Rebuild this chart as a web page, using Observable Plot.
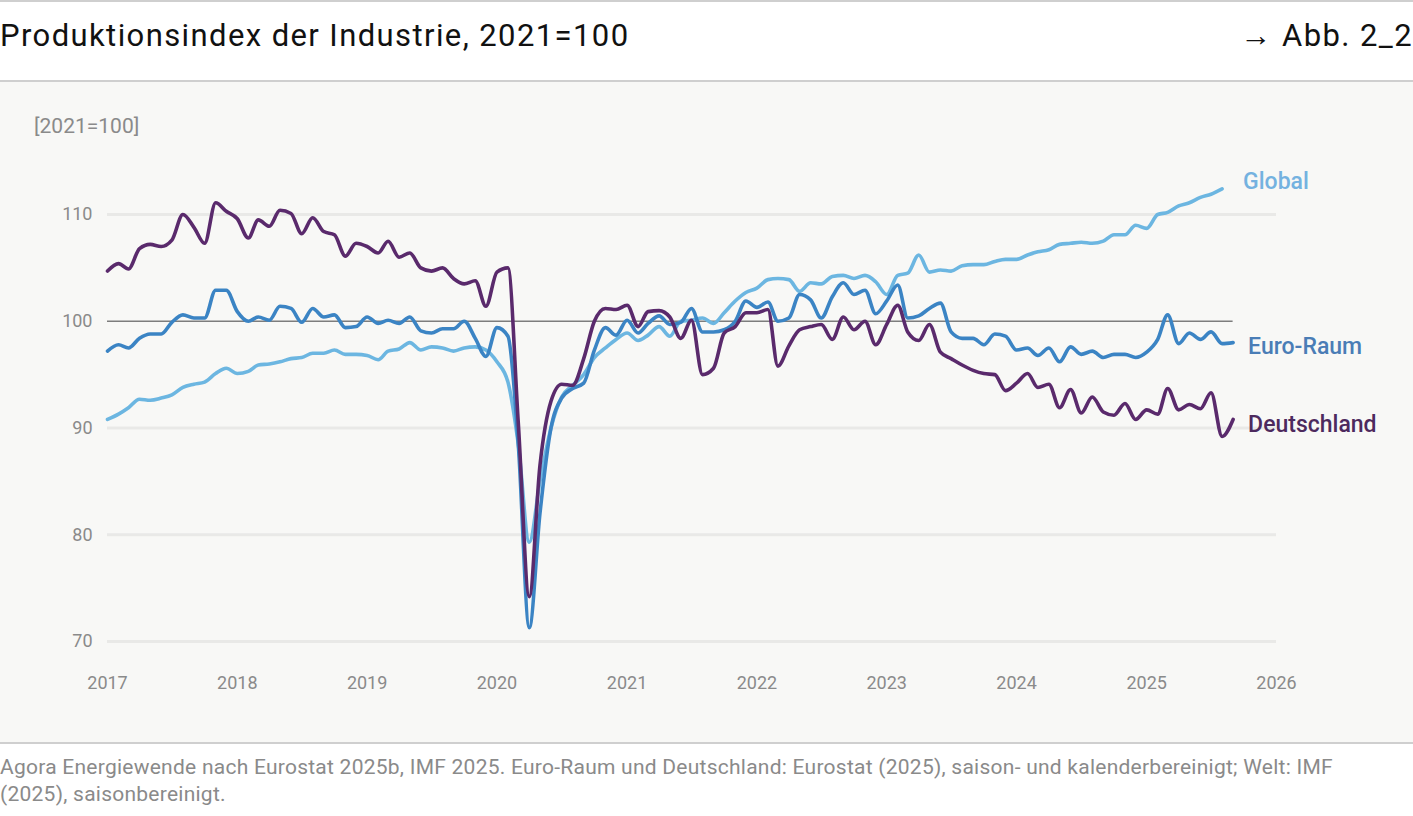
<!DOCTYPE html>
<html>
<head>
<meta charset="utf-8">
<script src="https://cdn.jsdelivr.net/npm/d3@7"></script>
<script src="https://cdn.jsdelivr.net/npm/@observablehq/plot@0.6"></script>
<style>
  html, body { margin: 0; padding: 0; background: #ffffff; }
  body { width: 1413px; height: 816px; position: relative; overflow: hidden; font-family: Roboto, "Open Sans", sans-serif; }
  #topline { position: absolute; left: 0; top: 0; width: 1413px; height: 0; border-top: 2px solid #cfcfcf; }
  #title { position: absolute; left: 0; top: 17px; font-size: 31px; letter-spacing: 1.4px; color: #111; white-space: nowrap; }
  #ref { position: absolute; right: 0; top: 17px; font-size: 31px; letter-spacing: 1.4px; color: #111; white-space: nowrap; }
  #panel { position: absolute; left: 0; top: 80px; width: 1413px; height: 660px; background: #f8f8f6;
           border-top: 2px solid #cfcfcf; border-bottom: 2px solid #cfcfcf; }
  #unit { position: absolute; left: 34px; top: 32px; font-size: 21px; color: #8a8a8a; }
  #chart { position: absolute; left: 0; top: 0; }
  #note { position: absolute; left: 0; top: 754px; font-size: 21px; letter-spacing: 0.25px; line-height: 27px; color: #8a8a8a; white-space: nowrap; }
</style>
</head>
<body>
<div id="topline"></div>
<div id="title">Produktionsindex der Industrie, 2021=100</div>
<div id="ref">→ Abb. 2_2</div>
<div id="panel">
  <div id="chart"></div>
  <div id="unit">[2021=100]</div>
</div>
<div id="note">Agora Energiewende nach Eurostat 2025b, IMF 2025. Euro-Raum und Deutschland: Eurostat (2025), saison- und kalenderbereinigt; Welt: IMF<br>(2025), saisonbereinigt.</div>
<script>
// ---- Data (monthly, starting January 2017) ----
const startMonth = "2017-01-01";
const yearTicks = [2017, 2018, 2019, 2020, 2021, 2022, 2023, 2024, 2025, 2026];
const yTicks = [70, 80, 90, 100, 110];
const seriesNames = ["Global", "Euro-Raum", "Deutschland"];
const seriesColors = ["#6cb6e1", "#3b84c4", "#5a2a6c"];
const labelColors = ["#74b2e0", "#4a7db6", "#4d2a5e"];

const deutschland = [
  104.7, 105.4, 104.9, 106.8, 107.2, 107.0, 107.6, 110.0, 108.8, 107.3, 111.1, 110.3,
  109.6, 107.8, 109.5, 108.9, 110.4, 110.1, 108.2, 109.7, 108.4, 108.1, 106.1, 107.3,
  107.0, 106.4, 107.5, 106.0, 106.4, 105.0, 104.7, 105.0, 104.0, 103.5, 103.8, 101.4,
  104.6, 105.0, 90.5, 74.2, 86.5, 92.5, 94.1, 94.0, 96.5, 100.0, 101.2, 101.1,
  101.5, 99.5, 100.9, 101.0, 100.4, 98.4, 100.1, 95.0, 95.6, 98.9, 99.5, 100.8,
  100.8, 101.1, 95.8, 97.7, 99.2, 99.5, 99.7, 98.3, 100.4, 99.2, 100.0, 97.8,
  99.7, 101.5, 99.0, 98.2, 99.7, 97.1, 96.5, 95.9, 95.4, 95.1, 95.0, 93.5,
  94.2, 95.1, 93.8, 94.1, 91.9, 93.6, 91.4, 92.9, 91.5, 91.2, 92.3, 90.8,
  91.7, 91.3, 93.7, 91.7, 92.2, 91.8, 93.3, 89.2, 90.8
];
const euroRaum = [
  97.2, 97.8, 97.5, 98.4, 98.8, 98.8, 99.9, 100.6, 100.3, 100.3, 102.9, 102.9,
  100.9, 100.0, 100.4, 100.1, 101.4, 101.2, 99.9, 101.2, 100.4, 100.6, 99.4, 99.5,
  100.4, 99.8, 100.1, 99.8, 100.4, 99.1, 98.9, 99.3, 99.3, 100.0, 98.4, 96.7,
  99.4, 98.6, 88.5, 71.3, 82.0, 90.0, 92.8, 93.7, 94.2, 97.3, 99.4, 98.7,
  100.1, 98.9, 99.8, 100.5, 99.7, 99.9, 101.2, 99.0, 99.0, 99.2, 100.0, 101.9,
  101.3, 101.8, 100.0, 100.3, 102.5, 102.0, 100.3, 102.3, 103.6, 102.5, 102.9, 100.7,
  101.9, 103.4, 100.3, 100.5, 101.2, 101.7, 99.0, 98.4, 98.4, 97.8, 98.8, 98.6,
  97.3, 97.5, 96.8, 97.5, 96.2, 97.6, 96.9, 97.2, 96.6, 96.9, 96.9, 96.6,
  97.1, 98.3, 100.6, 97.9, 98.9, 98.3, 99.0, 97.9, 98.0
];
const global = [
  90.8, 91.3, 91.9, 92.7, 92.6, 92.8, 93.1, 93.8, 94.1, 94.3, 95.1, 95.6,
  95.1, 95.3, 95.9, 96.0, 96.2, 96.5, 96.6, 97.0, 97.0, 97.3, 96.9, 96.9,
  96.8, 96.4, 97.2, 97.4, 98.0, 97.3, 97.6, 97.5, 97.2, 97.5, 97.6, 97.3,
  96.2, 94.3, 88.5, 79.3, 85.0, 90.0, 92.9, 94.0, 95.0, 96.6, 97.5, 98.3,
  98.9, 98.2, 98.7, 99.5, 98.6, 100.0, 100.1, 100.3, 99.8, 100.8, 101.9, 102.7,
  103.1, 103.9, 104.0, 103.9, 102.8, 103.6, 103.5, 104.2, 104.3, 104.0, 104.3, 103.7,
  102.5, 104.3, 104.5, 106.2, 104.6, 104.8, 104.7, 105.2, 105.3, 105.3, 105.6, 105.8,
  105.8, 106.2, 106.5, 106.7, 107.2, 107.3, 107.4, 107.3, 107.5, 108.1, 108.1, 109.0,
  108.7, 110.0, 110.2, 110.8, 111.1, 111.6, 111.9, 112.4
];

// ---- Build tables ----
const start = new Date(startMonth);
const monthDate = i => d3.utcMonth.offset(start, i);
const seriesValues = [global, euroRaum, deutschland];
const tables = seriesValues.map((vals, k) =>
  vals.map((v, i) => ({date: monthDate(i), value: v, series: seriesNames[k]})));
const allDates = tables[2].map(d => d.date);
const yearDates = yearTicks.map(y => new Date(Date.UTC(y, 0, 1)));

const labelOffsets = [{dx: 21, dy: -7}, {dx: 15, dy: 4}, {dx: 15, dy: 5}];

const marks = [
  Plot.gridY(yTicks.filter(t => t !== 100), {stroke: "#e9e9e7", strokeOpacity: 1, strokeWidth: 3}),
  Plot.axisY(yTicks, {tickSize: 0, tickPadding: 15, fontSize: 18, fill: "#8a8a8a", label: null}),
  Plot.axisX(yearDates, {tickSize: 0, tickPadding: 35, fontSize: 18, fill: "#8a8a8a", tickFormat: d3.utcFormat("%Y"), label: null}),
  Plot.ruleY([100], {x1: allDates[0], x2: allDates[allDates.length - 1], stroke: "#7d7d7d", strokeWidth: 1.5})
];
tables.forEach((tbl, k) => {
  marks.push(Plot.line(tbl, {x: "date", y: "value", stroke: seriesColors[k], strokeWidth: 3.6, curve: "monotone-x"}));
});
tables.forEach((tbl, k) => {
  marks.push(Plot.text([tbl[tbl.length - 1]], {
    x: "date", y: "value", text: "series", textAnchor: "start",
    dx: labelOffsets[k].dx, dy: labelOffsets[k].dy,
    fill: labelColors[k], fontSize: 23, fontWeight: 500
  }));
});

const chart = Plot.plot({
  width: 1413,
  height: 660,
  marginLeft: 107,
  marginRight: 137,
  marginTop: 132,
  marginBottom: 101,
  x: {type: "utc", domain: [yearDates[0], yearDates[yearDates.length - 1]]},
  y: {domain: [70, 110]},
  style: {background: "transparent", fontFamily: "Roboto, sans-serif", overflow: "visible"},
  marks
});
document.getElementById("chart").appendChild(chart);
</script>
</body>
</html>
